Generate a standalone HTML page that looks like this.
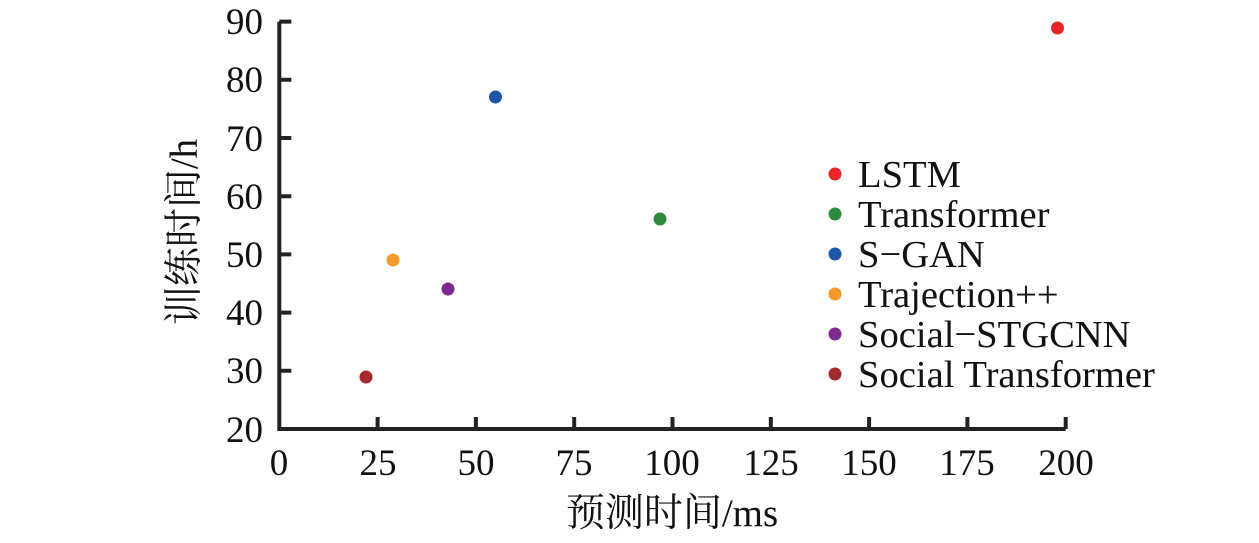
<!DOCTYPE html>
<html><head><meta charset="utf-8"><style>html,body{margin:0;padding:0;background:#fff}</style></head>
<body>
<svg width="1259" height="538" xmlns="http://www.w3.org/2000/svg" font-family="Liberation Serif, Noto Serif CJK SC, serif" fill="#111">
<g stroke="#222" stroke-width="4" fill="none">
<path d="M279.3 21.6 V429 H1065.7"/>
<path d="M279.3 21.6 h12 M279.3 79.8 h12 M279.3 138 h12 M279.3 196.2 h12 M279.3 254.4 h12 M279.3 312.6 h12 M279.3 370.8 h12"/>
<path d="M377.6 429 v-12 M475.9 429 v-12 M574.2 429 v-12 M672.5 429 v-12 M770.8 429 v-12 M869.1 429 v-12 M967.4 429 v-12 M1065.7 429 v-12"/>
</g>
<g font-size="37" text-anchor="end">
<text x="263" y="34">90</text><text x="263" y="92">80</text><text x="263" y="151">70</text><text x="263" y="209">60</text><text x="263" y="267">50</text><text x="263" y="325">40</text><text x="263" y="383">30</text><text x="263" y="442">20</text>
</g>
<g font-size="37" text-anchor="middle">
<text x="279" y="475">0</text><text x="378" y="475">25</text><text x="476" y="475">50</text><text x="574" y="475">75</text><text x="672" y="475">100</text><text x="771" y="475">125</text><text x="869" y="475">150</text><text x="967" y="475">175</text><text x="1066" y="475">200</text>
</g>
<g font-size="39" text-anchor="middle">
<text x="672" y="526">预测时间/ms</text>
<text transform="translate(197,232) rotate(-90)">训练时间/h</text>
</g>
<circle cx="1057.5" cy="28" r="6.5" fill="#e8262a"/>
<circle cx="660" cy="219" r="6.5" fill="#2e8b3e"/>
<circle cx="495.5" cy="97" r="6.5" fill="#1f56a8"/>
<circle cx="393" cy="260" r="6.5" fill="#f39a2b"/>
<circle cx="448" cy="289" r="6.5" fill="#7d2a8c"/>
<circle cx="366" cy="377" r="6.5" fill="#a32a2c"/>
<circle cx="835" cy="174" r="6.5" fill="#e8262a"/>
<circle cx="835" cy="214" r="6.5" fill="#2e8b3e"/>
<circle cx="835" cy="254" r="6.5" fill="#1f56a8"/>
<circle cx="835" cy="294" r="6.5" fill="#f39a2b"/>
<circle cx="835" cy="334" r="6.5" fill="#7d2a8c"/>
<circle cx="835" cy="374" r="6.5" fill="#a32a2c"/>
<g font-size="38.6">
<text x="858" y="187">LSTM</text>
<text x="858" y="227">Transformer</text>
<text x="858" y="267">S−GAN</text>
<text x="858" y="307">Trajection++</text>
<text x="858" y="347">Social−STGCNN</text>
<text x="858" y="387">Social Transformer</text>
</g>
</svg>
</body></html>
